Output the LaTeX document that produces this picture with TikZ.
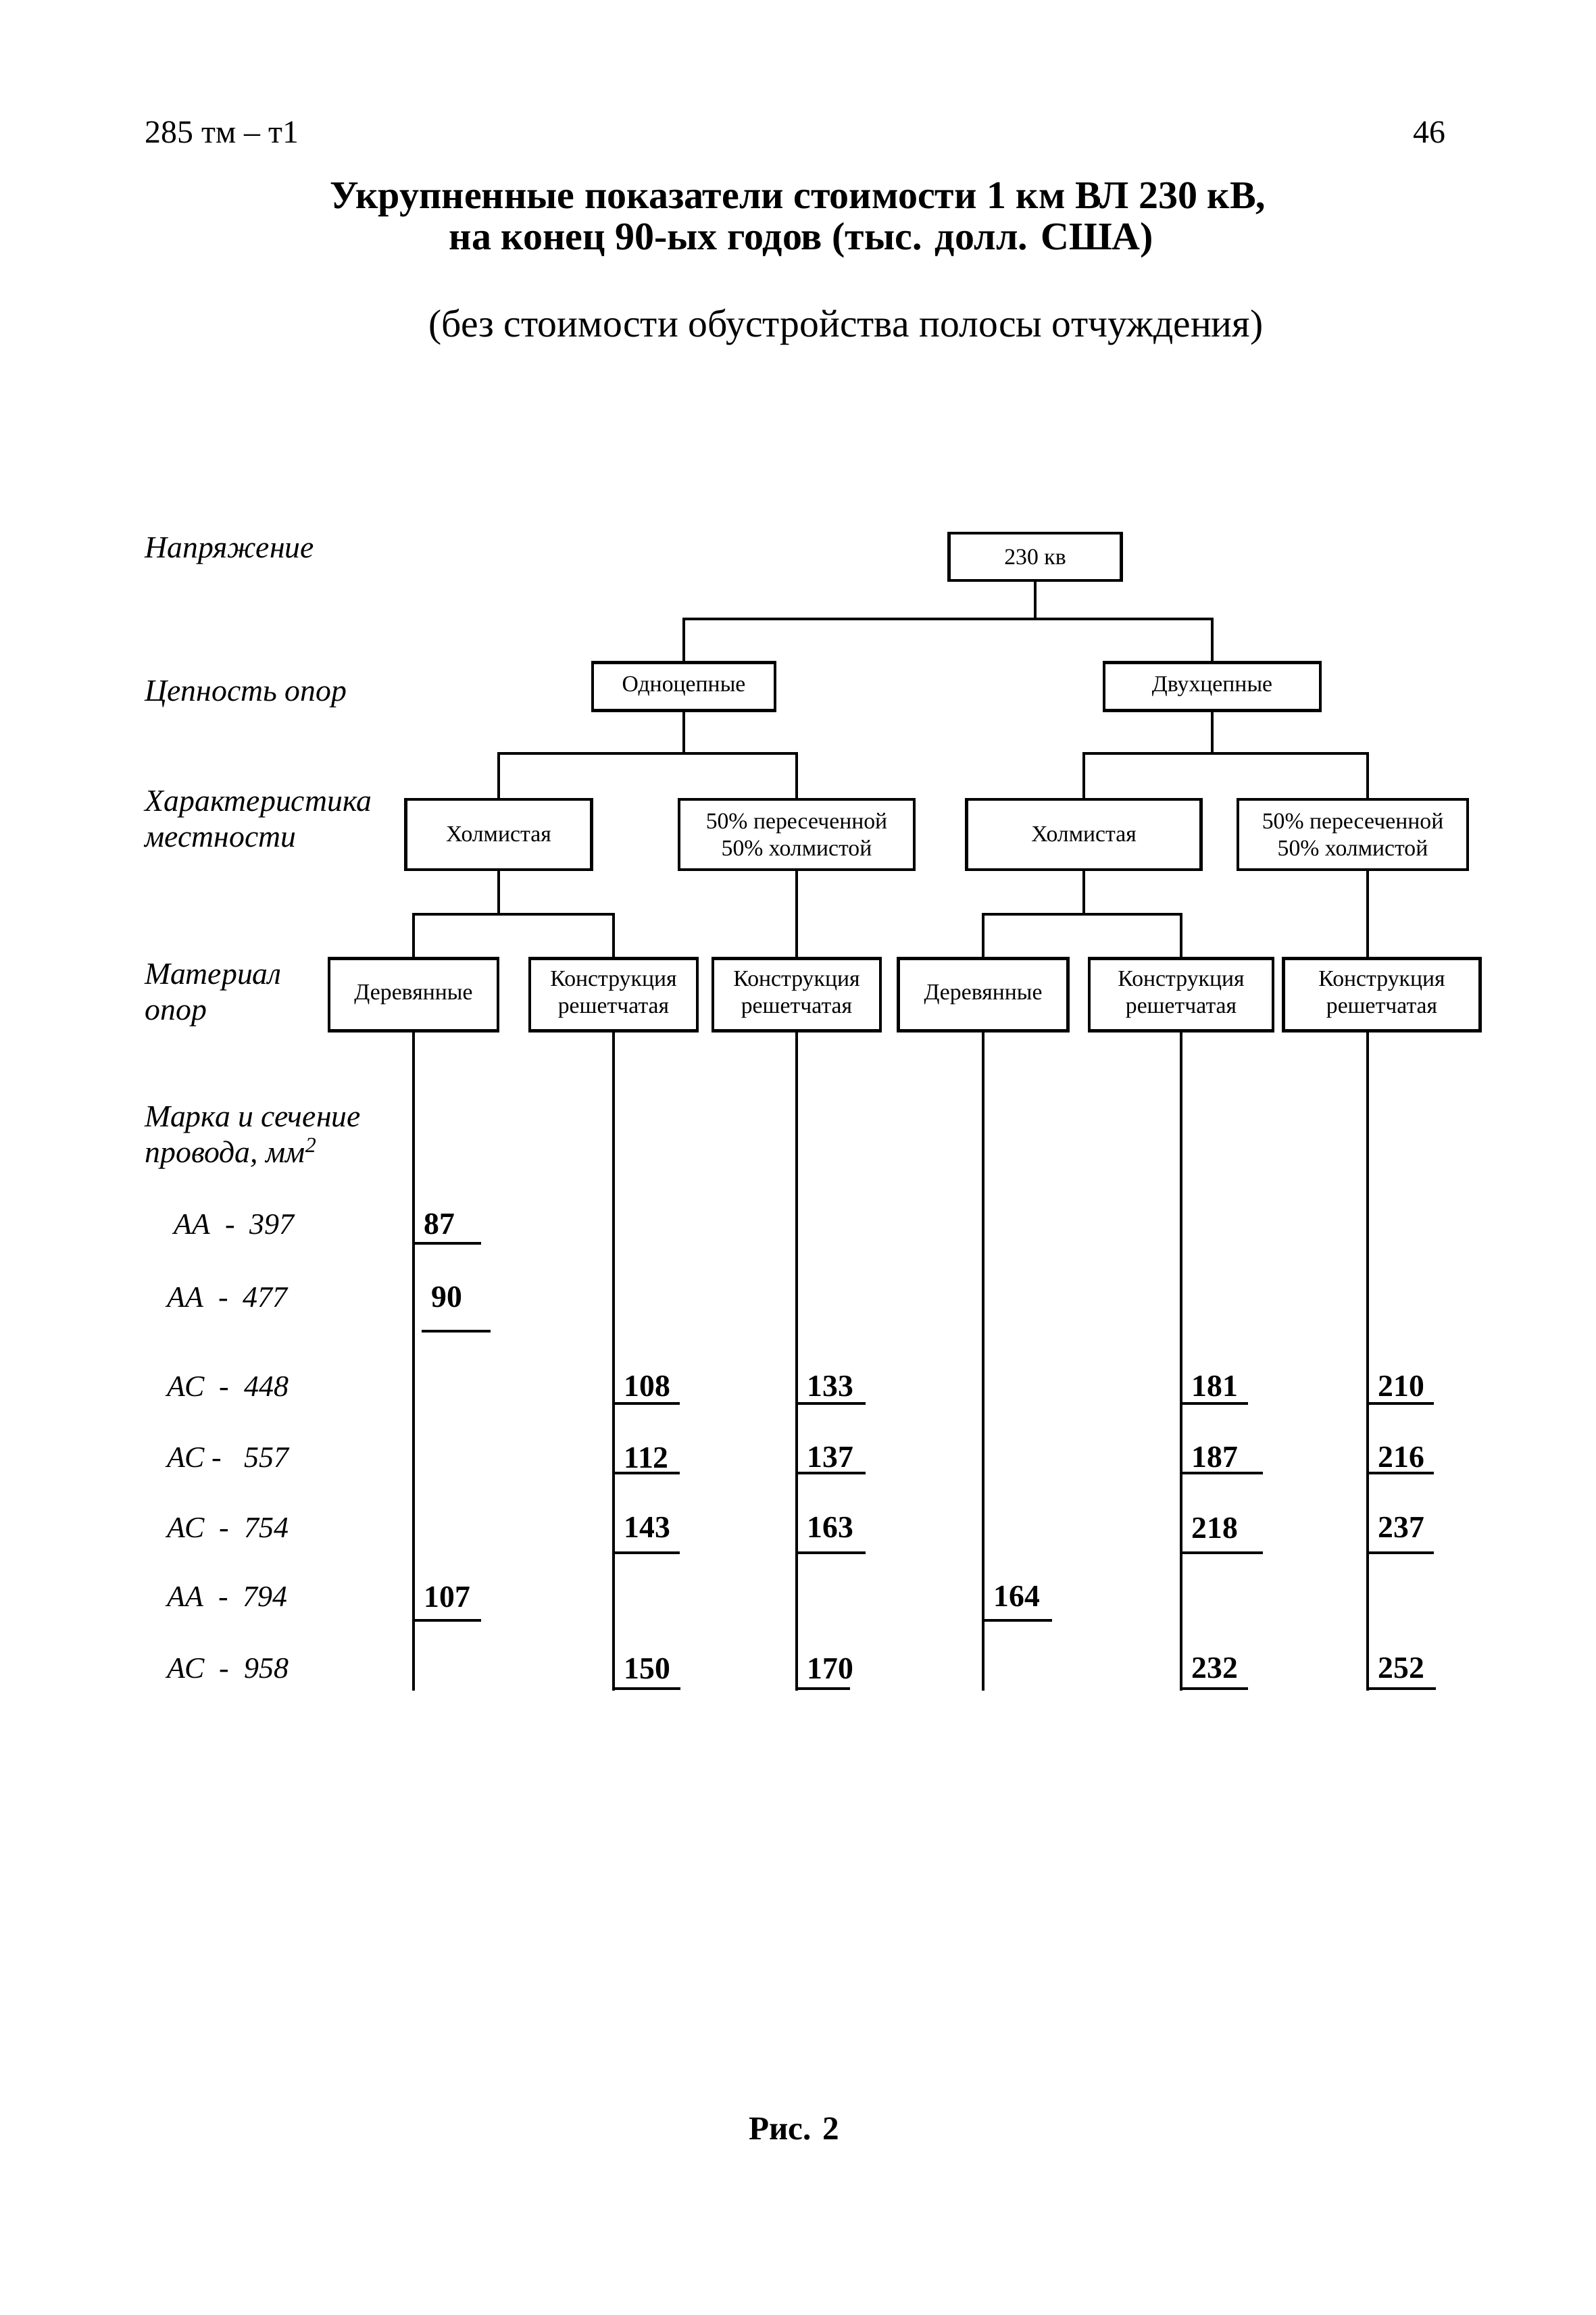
\documentclass[tikz,border=0pt]{standalone}
\usepackage{fontspec}
\setmainfont{Liberation Serif}

\begin{document}
\begin{tikzpicture}[
    box/.style={
        rectangle,
        draw=black,
        line width=1.3pt,
        minimum height=1.04cm,
        inner sep=2pt,
        align=center,
        font=\fontsize{9.6}{11.4}\selectfont
    },
    line/.style={line width=1.2pt},
    uline/.style={line width=1pt},
    level/.style={anchor=west, align=left, inner sep=0pt,
        font=\fontsize{13}{15}\selectfont\itshape},
    wire/.style={anchor=west, inner sep=0pt,
        font=\fontsize{12.5}{15}\selectfont\itshape},
    val/.style={anchor=west, inner sep=0pt,
        font=\fontsize{13}{15}\selectfont\bfseries}
]
\useasboundingbox (0,0) rectangle (23.62,-34.26);

% Header and title
\node[anchor=base west, inner sep=0pt, font=\fontsize{13.6}{16}\selectfont] (code) at (2.14,-2.11) {285 тм – т1};
\node[anchor=base east, inner sep=0pt, font=\fontsize{13.6}{16}\selectfont] (page) at (21.40,-2.11) {46};
\node[anchor=base, inner sep=0pt, font=\fontsize{16.5}{19}\selectfont\bfseries] (title) at (11.81,-3.08) {Укрупненные показатели стоимости 1 км ВЛ 230 кВ,};
\node[anchor=base, inner sep=0pt, font=\fontsize{16.5}{19}\selectfont\bfseries] (title2) at (11.86,-3.69) {на конец 90-ых годов (тыс. долл. США)};
\node[anchor=base, inner sep=0pt, font=\fontsize{16.4}{19}\selectfont] (note) at (12.52,-4.98) {(без стоимости обустройства полосы отчуждения)};

% Levels
\node[level] (lv1) at (2.14,-8.15) {Напряжение};
\node[level] (lv2) at (2.14,-10.27) {Цепность опор};
\node[level] (lv3) at (2.14,-12.12) {Характеристика\\местности};
\node[level] (lv4) at (2.14,-14.73) {Материал\\опор};
\node[level] (lv5) at (2.14,-16.84) {Марка и сечение\\провода, мм\textsuperscript{2}};

% Nodes
\node[box, minimum width=2.55cm, minimum height=0.70cm] (v230) at (15.32,-8.24) {230 кв};
\node[box, minimum width=2.70cm, minimum height=0.71cm] (one) at (10.12,-10.16) {Одноцепные};
\node[box, minimum width=3.20cm, minimum height=0.71cm] (two) at (17.94,-10.16) {Двухцепные};

\node[box, minimum width=2.75cm] (hill1) at (7.38,-12.35) {Холмистая};
\node[box, minimum width=3.48cm] (mix1)  at (11.79,-12.35) {50\% пересеченной\\50\% холмистой};
\node[box, minimum width=3.47cm] (hill2) at (16.04,-12.35) {Холмистая};
\node[box, minimum width=3.40cm] (mix2)  at (20.02,-12.35) {50\% пересеченной\\50\% холмистой};

\node[box, minimum width=2.50cm, minimum height=1.07cm] (wood1) at (6.12,-14.72) {Деревянные};
\node[box, minimum width=2.48cm, minimum height=1.07cm] (lat1)  at (9.08,-14.72) {Конструкция\\решетчатая};
\node[box, minimum width=2.48cm, minimum height=1.07cm] (lat2)  at (11.79,-14.72) {Конструкция\\решетчатая};
\node[box, minimum width=2.51cm, minimum height=1.07cm] (wood2) at (14.55,-14.72) {Деревянные};
\node[box, minimum width=2.72cm, minimum height=1.07cm] (lat3)  at (17.48,-14.72) {Конструкция\\решетчатая};
\node[box, minimum width=2.91cm, minimum height=1.07cm] (lat4)  at (20.45,-14.72) {Конструкция\\решетчатая};

% Junctions and columns
\coordinate (j0) at (0,-9.16);
\coordinate (j1) at (0,-11.15);
\coordinate (j2) at (0,-13.53);
\coordinate (bot) at (0,-25.02);
\coordinate (col1) at (wood1.south);
\coordinate (col2) at (lat1.south);
\coordinate (col3) at (lat2.south);
\coordinate (col4) at (wood2.south);
\coordinate (col5) at (lat3.south);
\coordinate (col6) at ([xshift=-0.21cm]lat4.south);

% Lines
\draw[line] (v230.south) -- (v230.south |- j0);
\draw[line] (one.north) |- (two.north |- j0) -- (two.north);
\draw[line] (one.south) -- (one.south |- j1);
\draw[line] (hill1.north) |- (mix1.north |- j1) -- (mix1.north);
\draw[line] (two.south) -- (two.south |- j1);
\draw[line] (hill2.north) |- (col6 |- j1) -- (mix2.north -| col6);
\draw[line] (hill1.south) -- (hill1.south |- j2);
\draw[line] (wood1.north) |- (lat1.north |- j2) -- (lat1.north);
\draw[line] (mix1.south) -- (lat2.north);
\draw[line] (hill2.south) -- (hill2.south |- j2);
\draw[line] (wood2.north) |- (lat3.north |- j2) -- (lat3.north);
\draw[line] (mix2.south -| col6) -- (lat4.north -| col6);
\foreach \c in {1,...,6}
    \draw[line] (col\c) -- (col\c |- bot);

% Rows
\foreach \r/\y/\u in {1/18.12/18.40, 2/19.20/19.70, 3/20.52/20.77, 4/21.57/21.80,
                      5/22.61/22.98, 6/23.63/23.98, 7/24.69/24.99} {
    \coordinate (r\r) at (0,-\y);
    \coordinate (u\r) at (0,-\u);
}
\foreach \r/\x/\t in {1/2.57/{АА\enspace-\enspace397}, 2/2.47/{АА\enspace-\enspace477},
                      3/2.47/{АС\enspace-\enspace448}, 4/2.47/{АС - \enspace557},
                      5/2.47/{АС\enspace-\enspace754}, 6/2.47/{АА\enspace-\enspace794},
                      7/2.47/{АС\enspace-\enspace958}}
    \node[wire] (w\r) at (\x,0 |- r\r) {\t};

% Values
\foreach \c/\r/\v/\l in {1/1/87/1.0, 1/6/107/1.0,
                         2/3/108/0.98, 2/4/112/0.98, 2/5/143/0.98, 2/7/150/0.99,
                         3/3/133/1.02, 3/4/137/1.02, 3/5/163/1.02, 3/7/170/0.79,
                         4/6/164/1.02,
                         5/3/181/0.99, 5/4/187/1.21, 5/5/218/1.21, 5/7/232/0.99,
                         6/3/210/0.98, 6/4/216/0.98, 6/5/237/0.98, 6/7/252/1.01} {
    \path (col\c |- r\r) ++(0.15,0) node[val] (n\v) {\v};
    \draw[uline] (col\c |- u\r) -- ++(\l,0);
}
\path (col1 |- r2) ++(0.26,0) node[val] (n90) {90};
\draw[uline] (col1 |- u2) ++(0.12,0) -- ++(1.02,0);

% Caption
\node[inner sep=0pt, font=\fontsize{14}{16}\selectfont\bfseries] (fig) at (11.75,-31.51) {Рис. 2};

\end{tikzpicture}
\end{document}
